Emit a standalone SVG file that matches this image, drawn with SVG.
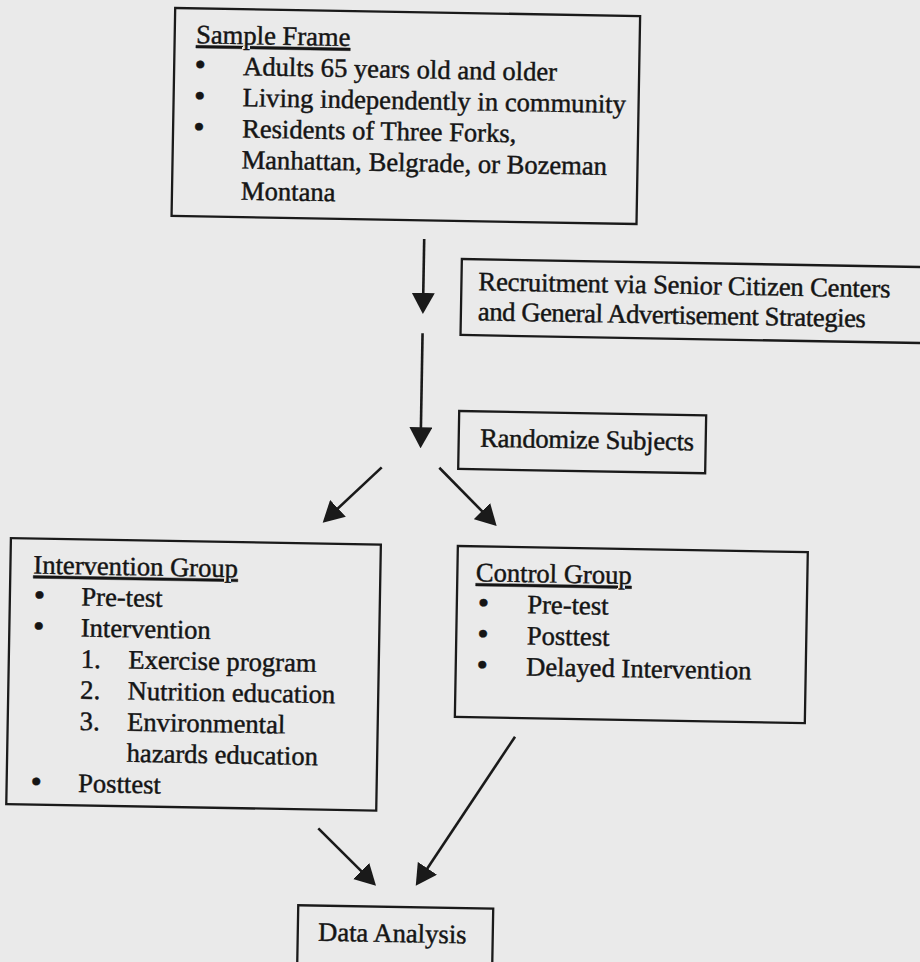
<svg xmlns="http://www.w3.org/2000/svg" width="920" height="962" viewBox="0 0 920 962">
<defs>
<style>
.bg{fill:#eaeaea}
.box{fill:none;stroke:#1a1a1a;stroke-width:2.3}
.t{font-family:"Liberation Serif","Times New Roman",serif;font-size:26.6px;fill:#151515;stroke:#151515;stroke-width:0.45}
.b{text-anchor:middle;font-family:"DejaVu Sans",sans-serif}
.u{text-decoration:underline}
.c{stroke:#1a1a1a;stroke-width:2.6;fill:none}
</style>
<marker id="ah" viewBox="0 0 21 23" refX="17" refY="11.5" markerWidth="21" markerHeight="23" markerUnits="userSpaceOnUse" orient="auto"><path d="M0,0 L21,11.5 L0,23 z" fill="#1a1a1a"/></marker>
</defs>
<rect class="bg" width="920" height="962"/>
<g transform="rotate(1 460 480)">
<g id="sample-frame">
<rect class="box" x="167" y="13" width="465" height="208"/>
<text class="t u" x="188.4" y="48">Sample Frame</text>
<text class="t b" x="193" y="79.1">•</text>
<text class="t b" x="193" y="110.2">•</text>
<text class="t b" x="193" y="141.3">•</text>
<text class="t" x="236" y="79.1">Adults 65 years old and older</text>
<text class="t" x="236" y="110.2">Living independently in community</text>
<text class="t" x="236" y="141.3">Residents of Three Forks,</text>
<text class="t" x="236" y="172.4">Manhattan, Belgrade, or Bozeman</text>
<text class="t" x="236" y="203.5">Montana</text>
</g>
<g id="recruitment">
<rect class="box" x="458" y="259" width="472" height="76"/>
<text class="t" x="475" y="290" textLength="412">Recruitment via Senior Citizen Centers</text>
<text class="t" x="475" y="320" textLength="388">and General Advertisement Strategies</text>
</g>
<g id="randomize">
<rect class="box" x="458" y="411" width="247" height="58"/>
<text class="t" x="479.4" y="446.3" textLength="214">Randomize Subjects</text>
</g>
<g id="intervention-group">
<rect class="box" x="12" y="546" width="370" height="266"/>
<text class="t u" x="35" y="581">Intervention Group</text>
<text class="t b" x="41.5" y="612.1">•</text>
<text class="t b" x="41.5" y="643.2">•</text>
<text class="t b" x="41.5" y="798.7">•</text>
<text class="t" x="83.5" y="612.1">Pre-test</text>
<text class="t" x="83.5" y="643.2">Intervention</text>
<text class="t" x="84" y="674.3">1.</text>
<text class="t" x="131.5" y="674.3">Exercise program</text>
<text class="t" x="84" y="705.4">2.</text>
<text class="t" x="131.5" y="705.4">Nutrition education</text>
<text class="t" x="84" y="736.5">3.</text>
<text class="t" x="131.5" y="736.5">Environmental</text>
<text class="t" x="131.5" y="767.6">hazards education</text>
<text class="t" x="83.5" y="798.7">Posttest</text>
</g>
<g id="control-group">
<rect class="box" x="459" y="546" width="350" height="171"/>
<text class="t u" x="477.5" y="581">Control Group</text>
<text class="t b" x="485.6" y="612.1">•</text>
<text class="t b" x="485.6" y="643.2">•</text>
<text class="t b" x="485.6" y="674.3">•</text>
<text class="t" x="529.5" y="612.1">Pre-test</text>
<text class="t" x="529.5" y="643.2">Posttest</text>
<text class="t" x="529.5" y="674.3">Delayed Intervention</text>
</g>
<g id="data-analysis">
<rect class="box" x="305.7" y="908" width="195" height="70"/>
<text class="t" x="326" y="943.2">Data Analysis</text>
</g>
<g id="connectors">
<line class="c" x1="420" y1="239.6" x2="420" y2="310.6" marker-end="url(#ah)"/>
<line class="c" x1="420" y1="334" x2="420" y2="445" marker-end="url(#ah)"/>
<line class="c" x1="381.5" y1="468.7" x2="326.3" y2="522.3" marker-end="url(#ah)"/>
<line class="c" x1="439.1" y1="468.1" x2="494.6" y2="522.6" marker-end="url(#ah)"/>
<line class="c" x1="324.4" y1="830.8" x2="380.2" y2="884.4" marker-end="url(#ah)"/>
<line class="c" x1="519.5" y1="735.7" x2="425" y2="883.1" marker-end="url(#ah)"/>
</g>
</g>
</svg>
